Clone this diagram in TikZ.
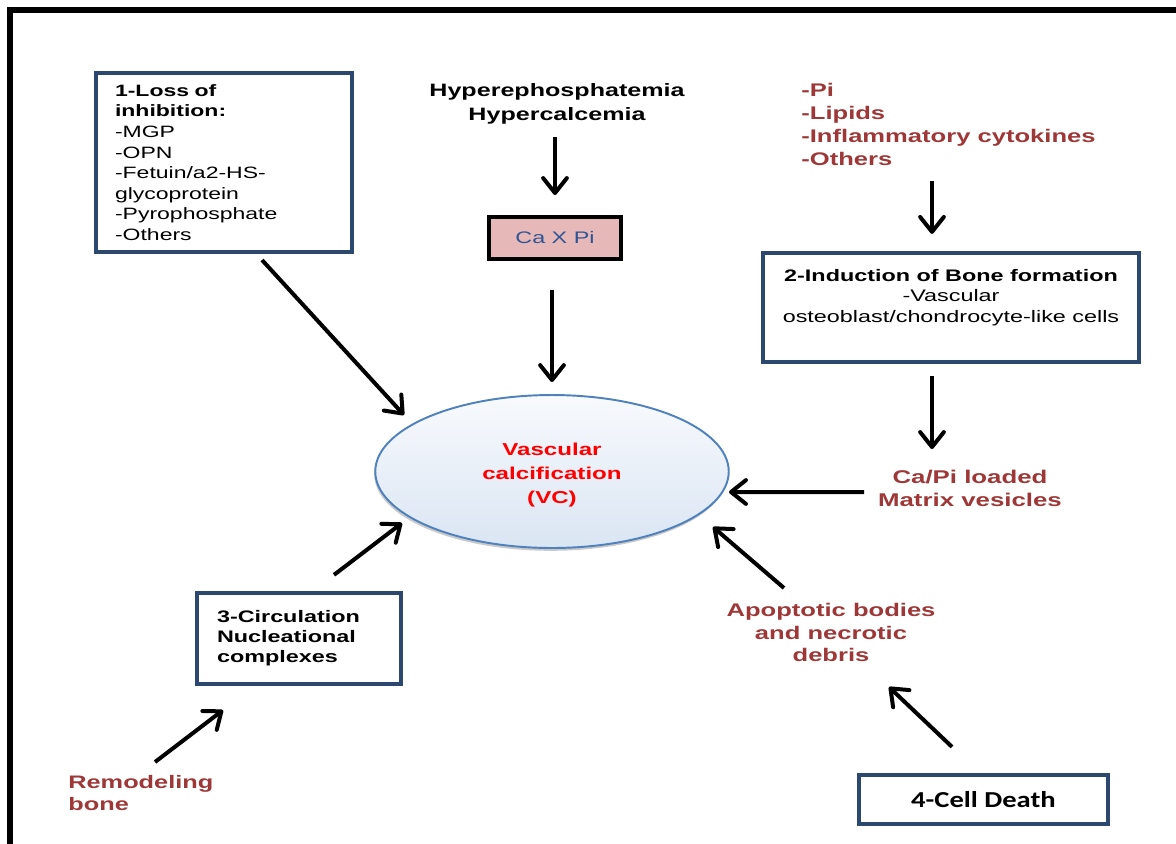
\documentclass[tikz,border=0pt]{standalone}
\usepackage{fontspec}
\setmainfont{Liberation Sans}[FakeStretch=1.4]
\newfontfamily\calfont{Carlito}[FakeStretch=1.25]
\usetikzlibrary{arrows.meta,shapes.geometric,calc,shadows}
\definecolor{boxblue}{RGB}{44,72,110}
\definecolor{brownc}{RGB}{158,56,56}
\definecolor{pinkc}{RGB}{230,184,183}
\definecolor{caxtext}{RGB}{47,84,150}
\definecolor{vcborder}{RGB}{79,129,189}
\definecolor{vctop}{RGB}{248,250,253}
\definecolor{vcbot}{RGB}{218,229,243}
\definecolor{vcred}{RGB}{255,0,0}
\begin{document}
\begin{tikzpicture}[x=0.02cm,y=-0.02cm,
  box/.style={draw=boxblue, line width=0.086cm, fill=white, inner sep=0pt},
  arr/.style={line width=0.08cm, -{Straight Barb[length=8.5pt,width=13.5pt,round]}},
  browntext/.style={text=brownc, inner sep=0pt},
  blacktext/.style={text=black, inner sep=0pt}]
\useasboundingbox (0,0) rectangle (1176,843);
% outer frame (cropped)
\draw[line width=0.12cm] (10,850) -- (10,10) -- (1190,10);

% box 1
\node[box, minimum width=5.12cm, minimum height=3.58cm, text width=4.36cm,
  inner xsep=0.38cm, align=left, font=\fontsize{9.35}{11.7}\selectfont]
  (box1) at (224,162.5)
  {\textbf{1-Loss of}\\\textbf{inhibition:}\\-MGP\\-OPN\\-Fetuin/a2-HS-\\glycoprotein\\-Pyrophosphate\\-Others};

% Hyperphosphatemia
\node[blacktext, anchor=north, align=center, font=\bfseries\fontsize{10.2}{13.6}\selectfont]
  (hyper) at (557,83) {Hyperephosphatemia\\Hypercalcemia};

% Ca X Pi
\node[draw=black, line width=0.08cm, fill=pinkc, minimum width=2.66cm, minimum height=0.84cm,
  inner sep=0pt, text=caxtext, font=\fontsize{9.5}{11}\selectfont]
  (cax) at (555,237.5) {Ca X Pi};

% VC ellipse
\node[ellipse, draw=vcborder, line width=1.1pt, top color=vctop, bottom color=vcbot,
  drop shadow={opacity=0.35, shadow xshift=-0.6pt, shadow yshift=-1.6pt, fill=black!60},
  minimum width=7.04cm, minimum height=3.06cm, inner sep=0pt, align=center,
  text=vcred, font=\bfseries\fontsize{9.8}{13.6}\selectfont]
  (vc) at (552,471.5) {\parbox{5cm}{\centering\vspace*{0.14cm}Vascular\\calcification\\(VC)}};

% list (brown)
\node[browntext, anchor=north west, align=left, font=\bfseries\fontsize{10.4}{13.1}\selectfont]
  (list) at (801,83) {-Pi\\-Lipids\\-Inflammatory cytokines\\-Others};

% box 2
\node[box, minimum width=7.52cm, minimum height=2.18cm, font=\fontsize{9.5}{11.5}\selectfont]
  (box2) at (951,307.5)
  {\parbox[c][2.18cm][t]{7.52cm}{\centering\vspace*{0.33cm}\textbf{2-Induction of Bone formation}\\-Vascular\\osteoblast/chondrocyte-like cells}};

% Ca/Pi loaded
\node[browntext, anchor=north, align=center, font=\bfseries\fontsize{10.5}{13}\selectfont]
  (capi) at (970,470) {Ca/Pi loaded\\Matrix vesicles};

% Apoptotic
\node[browntext, anchor=north, align=center, font=\bfseries\fontsize{10.4}{12.75}\selectfont]
  (apop) at (831,603) {Apoptotic bodies\\and necrotic\\debris};

% box 3
\node[box, minimum width=4.08cm, minimum height=1.82cm, text width=3.28cm, inner xsep=0.4cm,
  align=left, font=\bfseries\fontsize{9.5}{11.3}\selectfont]
  (box3) at (299,638.5) {3-Circulation\\Nucleational\\complexes};

% Remodeling bone
\node[browntext, anchor=north west, align=left, font=\bfseries\fontsize{10.3}{12.3}\selectfont]
  (remod) at (68,775) {Remodeling\\bone};

% box 4
\node[box, minimum width=4.98cm, minimum height=0.98cm, font=\calfont\bfseries\fontsize{13}{15}\selectfont]
  (box4) at (983.5,799.5) {4-Cell Death};

% connectors
\draw[arr] ($(box1.center)+(38,97.5)$) -- ($(vc.center)+(-148,-56.5)$);
\draw[arr] ($(hyper.north)+(-2,54)$) -- ($(cax.north)+(0,-19.5)$);
\draw[arr] ($(cax.south)+(-3,29)$) -- ($(vc.north)+(0,-12)$);
\draw[arr] ($(list.north west)+(131,98)$) -- ($(box2.north)+(-19,-17)$);
\draw[arr] ($(box2.south)+(-19,12)$) -- ($(capi.north)+(-38,-21)$);
\draw[arr] ($(capi.north)+(-106,22)$) -- ($(vc.center)+(177,20.5)$);
\draw[arr] ($(apop.north)+(-47,-15)$) -- ($(vc.center)+(161,55.5)$);
\draw[arr] ($(box4.north)+(-31.5,-26)$) -- ($(apop.north)+(58,84)$);
\draw[arr] ($(box3.north)+(35,-16)$) -- ($(vc.center)+(-150,51.5)$);
\draw[arr] ($(remod.north west)+(87,-13)$) -- ($(box3.south)+(-76,24)$);
\end{tikzpicture}
\end{document}
